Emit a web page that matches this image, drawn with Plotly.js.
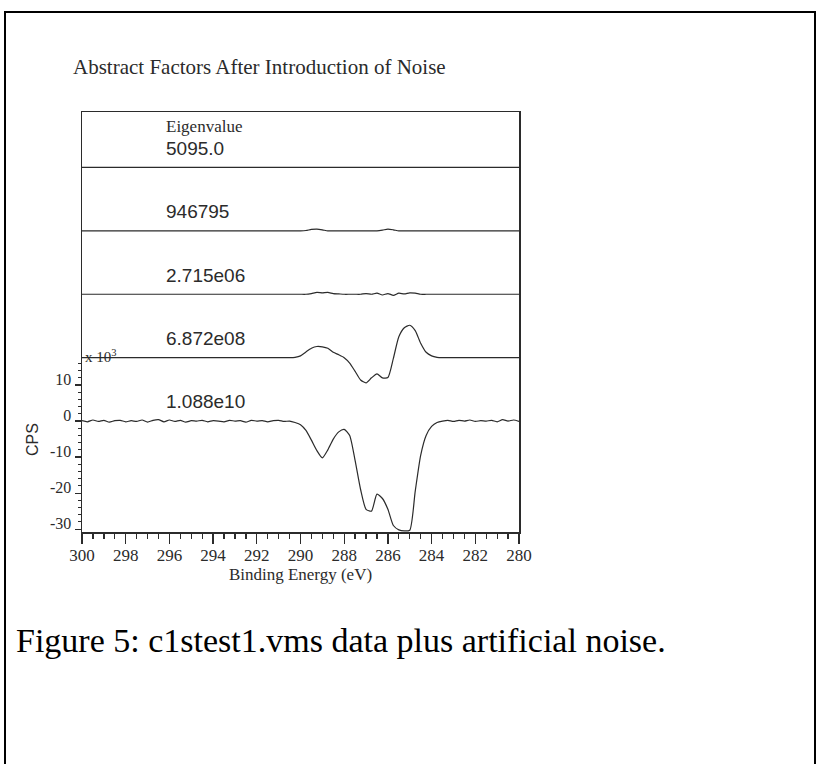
<!DOCTYPE html>
<html>
<head>
<meta charset="utf-8">
<script src="https://cdn.plot.ly/plotly-3.0.1.min.js"></script>
<style>
  html, body { margin: 0; padding: 0; background: #fff; }
  #chart { width: 818px; height: 764px; }
</style>
</head>
<body>
<div id="chart"></div>
<script>
// Binding energy grid (eV)
const energy = [
  300, 299.75, 299.5, 299.25, 299, 298.75, 298.5, 298.25, 298, 297.75,
  297.5, 297.25, 297, 296.75, 296.5, 296.25, 296, 295.75, 295.5, 295.25,
  295, 294.75, 294.5, 294.25, 294, 293.75, 293.5, 293.25, 293, 292.75,
  292.5, 292.25, 292, 291.75, 291.5, 291.25, 291, 290.75, 290.5, 290.25,
  290, 289.75, 289.5, 289.25, 289, 288.75, 288.5, 288.25, 288, 287.75,
  287.5, 287.25, 287, 286.75, 286.5, 286.25, 286, 285.75, 285.5, 285.25,
  285, 284.75, 284.5, 284.25, 284, 283.75, 283.5, 283.25, 283, 282.75,
  282.5, 282.25, 282, 281.75, 281.5, 281.25, 281, 280.75, 280.5, 280.25, 280
];

// Abstract factors, CPS x 10^3, listed from the top trace down
const factor1 = [
  0, 0, 0, 0, 0, 0, 0, 0, 0, 0,
  0, 0, 0, 0, 0, 0, 0, 0, 0, 0,
  0, 0, 0, 0, 0, 0, 0, 0, 0, 0,
  0, 0, 0, 0, 0, 0, 0, 0, 0, 0,
  0, 0, 0, 0, 0, 0, 0, 0, 0, 0,
  0, 0, 0, 0, 0, 0, 0, 0, 0, 0,
  0, 0, 0, 0, 0, 0, 0, 0, 0, 0,
  0, 0, 0, 0, 0, 0, 0, 0, 0, 0, 0
];
const factor2 = [
  0, 0, 0, 0, 0, 0, 0, 0, 0, 0,
  0, 0, 0, 0, 0, 0, 0, 0, 0, 0,
  0, 0, 0, 0, 0, 0, 0, 0, 0, 0,
  0, 0, 0, 0, 0, 0, 0, 0, 0, 0,
  0, 0.1, 0.4, 0.5, 0.3, 0, 0, 0, 0, 0,
  0, 0, 0, 0, 0, 0.2, 0.5, 0.3, 0, 0,
  0, 0, 0, 0, 0, 0, 0, 0, 0, 0,
  0, 0, 0, 0, 0, 0, 0, 0, 0, 0, 0
];
const factor3 = [
  0, 0, 0, 0, 0, 0, 0, 0, 0, 0,
  0, 0, 0, 0, 0, 0, 0, 0, 0, 0,
  0, 0, 0, 0, 0, 0, 0, 0, 0, 0,
  0, 0, 0, 0, 0, 0, 0, 0, 0, 0,
  0, 0, 0.2, 0.5, 0.4, 0.5, 0.2, 0.1, 0, 0,
  0, 0, 0.2, 0, 0.3, -0.2, 0.2, -0.3, 0.3, 0.1,
  0.4, 0.3, 0, 0, 0, 0, 0, 0, 0, 0,
  0, 0, 0, 0, 0, 0, 0, 0, 0, 0, 0
];
const factor4 = [
  0, 0, 0, 0, 0, 0, 0, 0, 0, 0,
  0, 0, 0, 0, 0, 0, 0, 0, 0, 0,
  0, 0, 0, 0, 0, 0, 0, 0, 0, 0,
  0, 0, 0, 0, 0, 0, 0, 0, 0, 0.1,
  0.5, 1.6, 2.6, 3.1, 3.0, 2.6, 1.5, 0.8, 0.0, -1.5,
  -3.8, -6.2, -7.0, -5.6, -4.5, -5.6, -5.5, -0.2, 5.8, 8.3,
  9.0, 7.5, 4.0, 1.5, 0.5, 0.1, 0, 0, 0, 0,
  0, 0, 0, 0, 0, 0, 0, 0, 0, 0, 0
];
const factor5 = [
  0.1, -0.2, 0.3, -0.1, 0.2, -0.3, 0.1, 0.2, -0.2, 0.1,
  -0.1, 0.3, -0.3, 0.2, 0.4, -0.2, 0.3, -0.1, 0.2, -0.3,
  0.1, 0.0, 0.2, -0.2, 0.1, 0.0, -0.2, 0.2, 0.0, 0.1,
  -0.3, 0.2, 0.0, 0.1, -0.2, 0.1, 0.2, -0.1, 0.0, -0.4,
  -1.0, -2.6, -5.3, -8.2, -10.2, -8.0, -5.0, -3.0, -2.3, -4.0,
  -11.0, -19.0, -24.5, -25.0, -20.3, -21.5, -24.5, -29.0, -30.2, -30.5,
  -30.3, -19.5, -9.5, -4.0, -1.5, -0.4, 0.0, 0.2, -0.1, 0.2,
  0.0, 0.3, -0.1, 0.1, 0.0, 0.2, -0.2, 0.4, 0.0, 0.3, -0.1
];

const factors = [factor1, factor2, factor3, factor4, factor5];
const eigenvalues = ['5095.0', '946795', '2.715e06', '6.872e08', '1.088e10'];

// Axis ticks
const xTickVals = [300, 298, 296, 294, 292, 290, 288, 286, 284, 282, 280];
const yTickVals = [-30, -20, -10, 0, 10];
const yTickText = ['-30', '-20', '-10', '0', '10'];

// Vertical baseline of each stacked trace (CPS x 10^3)
const stackBase = [70.4, 52.8, 35.2, 17.6, 0];

// Minor ticks: every 0.5 eV on x, every 2 units on the lower y scale
const minorX = [];
for (let k = 1; k < 40; k++) if (k % 4 !== 0) minorX.push(300 - k * 0.5);
const minorY = [];
for (let v = -32; v <= 16; v += 2) if (v % 10 !== 0) minorY.push(v);

const ink = '#2b2b2b';
const serif = 'Liberation Serif, Times New Roman, serif';
const sans = 'Liberation Sans, Arial, sans-serif';

const traces = factors.map((f, i) => ({
  type: 'scatter',
  mode: 'lines',
  x: energy,
  y: f.map(v => v + stackBase[i]),
  line: { color: ink, width: 1.2, shape: 'spline', smoothing: 0.6 },
  hoverinfo: 'skip'
}));

const annotations = eigenvalues.map((txt, i) => ({
  xref: 'x', yref: 'y',
  x: 296.25, y: stackBase[i] + 5.3,
  xanchor: 'left', yanchor: 'middle',
  text: txt, showarrow: false,
  font: { family: sans, size: 19, color: ink }
}));
annotations.push({
  xref: 'x', yref: 'y', x: 296.25, y: stackBase[0] + 11.5,
  xanchor: 'left', yanchor: 'middle', text: 'Eigenvalue', showarrow: false,
  font: { family: serif, size: 17, color: ink }
});
annotations.push({
  xref: 'paper', yref: 'y', x: 0.1015, y: 18.0,
  xanchor: 'left', yanchor: 'middle', text: 'x 10<sup>3</sup>', showarrow: false,
  font: { family: serif, size: 15, color: ink }
});
annotations.push({
  xref: 'paper', yref: 'paper', x: 32 / 818, y: 1 - 440 / 764,
  xanchor: 'center', yanchor: 'middle', textangle: -90,
  text: 'CPS', showarrow: false,
  font: { family: sans, size: 16, color: ink }
});
annotations.push({
  xref: 'paper', yref: 'paper', x: 14 / 818, y: 1 - 640 / 764,
  xanchor: 'left', yanchor: 'middle',
  text: 'Figure 5: c1stest1.vms data plus artificial noise.', showarrow: false,
  font: { family: serif, size: 34, color: '#000' }
});

const layout = {
  width: 818, height: 764,
  margin: { l: 0, r: 0, t: 0, b: 0 },
  paper_bgcolor: '#fff', plot_bgcolor: '#fff',
  showlegend: false,
  font: { family: serif, size: 13, color: ink },
  title: {
    text: 'Abstract Factors After Introduction of Noise',
    x: 73 / 818, xanchor: 'left', xref: 'paper',
    y: 1 - 67 / 764, yanchor: 'middle', yref: 'paper',
    font: { family: serif, size: 21, color: ink }
  },
  xaxis: {
    domain: [82 / 818, 519 / 818],
    range: [300, 280],
    tickmode: 'array', tickvals: xTickVals,
    ticks: 'outside', ticklen: 10, tickwidth: 1.4, tickcolor: ink,
    minor: { tickmode: 'array', tickvals: minorX, ticks: 'outside', ticklen: 5, tickwidth: 1.3, tickcolor: ink, showgrid: false },
    showline: true, linecolor: ink, linewidth: 1.5, mirror: true,
    showgrid: false, zeroline: false,
    ticklabelstandoff: -3,
    tickfont: { family: serif, size: 17, color: ink },
    title: { text: 'Binding Energy (eV)', standoff: 0, font: { family: serif, size: 17, color: ink } }
  },
  yaxis: {
    domain: [232 / 764, 652 / 764],
    range: [-30.8, 85.8],
    tickmode: 'array', tickvals: yTickVals, ticktext: yTickText,
    ticks: 'outside', ticklen: 6, tickwidth: 1.2, tickcolor: ink,
    minor: { tickmode: 'array', tickvals: minorY, ticks: 'outside', ticklen: 3, tickwidth: 1, tickcolor: ink, showgrid: false },
    showline: true, linecolor: ink, linewidth: 1.5, mirror: true,
    showgrid: false, zeroline: false,
    ticklabelshift: -6,
    tickfont: { family: serif, size: 16, color: ink }
  },
  annotations: annotations,
  shapes: [
    // page frame around the figure
    { type: 'rect', xref: 'paper', yref: 'paper', x0: 5 / 818, x1: 815 / 818, y0: -0.05, y1: 1 - 12 / 764,
      line: { color: '#000', width: 2 } }
  ]
};

Plotly.newPlot('chart', traces, layout, { staticPlot: true, displayModeBar: false });
</script>
</body>
</html>
